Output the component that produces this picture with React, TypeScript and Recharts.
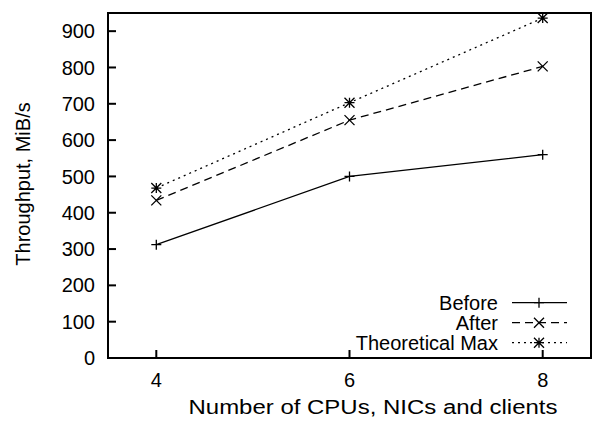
import { LineChart, Line, XAxis, YAxis, ReferenceArea } from "recharts"

const cpus = [4, 6, 8]
const before = [312, 500, 560]
const after = [434, 655, 803]
const theoreticalMax = [468, 703, 936]
const xTicks = [4, 6, 8]
const yTicks = [0, 100, 200, 300, 400, 500, 600, 700, 800, 900]

const seriesNames = ["Before", "After", "Theoretical Max"]

const data = cpus.map((c, i) => ({
    cpus: c,
    before: before[i],
    after: after[i],
    max: theoreticalMax[i],
}))

const font = "'Liberation Sans', Arial, Helvetica, sans-serif"
const axisStroke = { stroke: "#000", strokeWidth: 2 }
const tickFont = { fill: "#000", fontSize: 20, fontFamily: font }

type Kind = "plus" | "cross" | "star"

function markPath(cx: number, cy: number, kind: Kind) {
    const s = 5
    const plus = `M${cx - s},${cy}H${cx + s}M${cx},${cy - s}V${cy + s}`
    const cross = `M${cx - s},${cy - s}L${cx + s},${cy + s}M${cx - s},${cy + s}L${cx + s},${cy - s}`
    if (kind === "plus") return plus
    if (kind === "cross") return cross
    return plus + cross
}

const makeDot = (kind: Kind) => (props: any) => {
    const { cx, cy, index } = props
    if (cx == null || cy == null) return <g key={`d-${kind}-${index}`} />
    return (
        <path
            key={`d-${kind}-${index}`}
            d={markPath(cx, cy, kind)}
            stroke="#000"
            strokeWidth={1.3}
            fill="none"
        />
    )
}

const legendRows: { name: string; dash?: string; kind: Kind }[] = [
    { name: seriesNames[0], kind: "plus" },
    { name: seriesNames[1], dash: "8 5", kind: "cross" },
    { name: seriesNames[2], dash: "2 4", kind: "star" },
]

function LegendBox() {
    return (
        <svg width={250} height={62} style={{ display: "block" }}>
            {legendRows.map((r, i) => {
                const cy = 10.7 + i * 20
                return (
                    <g key={r.name}>
                        <text
                            x={168}
                            y={cy + 7}
                            textAnchor="end"
                            fontSize={20}
                            fontFamily={font}
                            fill="#000"
                        >
                            {r.name}
                        </text>
                        <line
                            x1={182}
                            x2={237}
                            y1={cy}
                            y2={cy}
                            stroke="#000"
                            strokeWidth={1.3}
                            strokeDasharray={r.dash}
                        />
                        <path d={markPath(209, cy, r.kind)} stroke="#000" strokeWidth={1.3} fill="none" />
                    </g>
                )
            })}
        </svg>
    )
}

function YTitle() {
    return (
        <text
            x={30}
            y={184}
            transform="rotate(-90 30 184)"
            textAnchor="middle"
            fontSize={20}
            fontFamily={font}
            fill="#000"
        >
            Throughput, MiB/s
        </text>
    )
}

function XTitle() {
    return (
        <text
            x={373}
            y={414}
            textAnchor="middle"
            fontSize={20}
            fontFamily={font}
            fill="#000"
            textLength={369}
            lengthAdjust="spacingAndGlyphs"
        >
            Number of CPUs, NICs and clients
        </text>
    )
}

export default function App() {
    return (
        <div style={{ position: "absolute", left: 0, top: 0, width: 592, height: 421, background: "#fff" }}>
            <LineChart
                width={592}
                height={421}
                data={data}
                margin={{ top: 12, right: 0, bottom: 0, left: 0 }}
            >
                <XAxis
                    dataKey="cpus"
                    type="number"
                    domain={[3.5, 8.5]}
                    ticks={xTicks}
                    interval={0}
                    height={63}
                    tickSize={-8}
                    tickMargin={23}
                    axisLine={axisStroke}
                    tickLine={axisStroke}
                    tick={tickFont}
                    label={{ content: () => <XTitle /> }}
                />
                <XAxis
                    xAxisId="top"
                    orientation="top"
                    dataKey="cpus"
                    type="number"
                    domain={[3.5, 8.5]}
                    ticks={xTicks}
                    interval={0}
                    height={1}
                    tickSize={-8}
                    axisLine={axisStroke}
                    tickLine={axisStroke}
                    tick={false}
                />
                <YAxis
                    type="number"
                    domain={[0, 950]}
                    ticks={yTicks}
                    interval={0}
                    width={108}
                    tickSize={-8}
                    tickMargin={21}
                    axisLine={axisStroke}
                    tickLine={axisStroke}
                    tick={tickFont}
                    label={{ content: () => <YTitle /> }}
                />
                <YAxis
                    yAxisId="r"
                    orientation="right"
                    type="number"
                    domain={[0, 950]}
                    ticks={yTicks}
                    interval={0}
                    width={1}
                    tickSize={-8}
                    axisLine={axisStroke}
                    tickLine={axisStroke}
                    tick={false}
                />
                <ReferenceArea
                    x1={3.5}
                    x2={8.5}
                    y1={0}
                    y2={950}
                    fill="none"
                    stroke="#000"
                    strokeWidth={2}
                    ifOverflow="visible"
                />
                {/* keeps the mirrored top/right axes active */}
                <Line
                    xAxisId="top"
                    yAxisId="r"
                    dataKey="max"
                    stroke="none"
                    dot={false}
                    activeDot={false}
                    legendType="none"
                    isAnimationActive={false}
                />
                <Line
                    dataKey="before"
                    name={seriesNames[0]}
                    stroke="#000"
                    strokeWidth={1.3}
                    dot={makeDot("plus")}
                    isAnimationActive={false}
                />
                <Line
                    dataKey="after"
                    name={seriesNames[1]}
                    stroke="#000"
                    strokeWidth={1.3}
                    strokeDasharray="8 5"
                    dot={makeDot("cross")}
                    isAnimationActive={false}
                />
                <Line
                    dataKey="max"
                    name={seriesNames[2]}
                    stroke="#000"
                    strokeWidth={1.3}
                    strokeDasharray="2 4"
                    dot={makeDot("star")}
                    isAnimationActive={false}
                />
            </LineChart>
            <div style={{ position: "absolute", left: 330, top: 292 }}>
                <LegendBox />
            </div>
        </div>
    )
}
